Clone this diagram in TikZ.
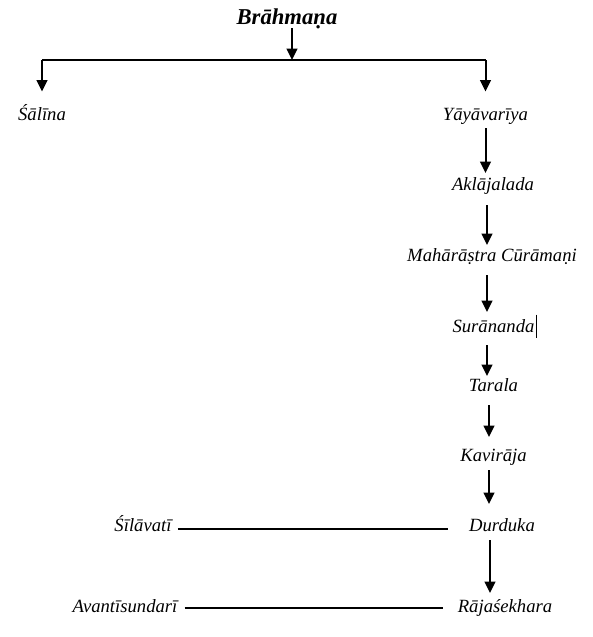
\documentclass[tikz,border=0pt]{standalone}
\usepackage{fontspec}
\setmainfont{Liberation Serif}
\usetikzlibrary{arrows.meta}
\begin{document}
\begin{tikzpicture}[x=0.75pt,y=-0.75pt,
  lbl/.style={inner sep=0pt, font=\fontsize{14}{16}\selectfont\itshape, text height=11pt, text depth=3pt},
  ttl/.style={inner sep=0pt, font=\fontsize{17}{20}\selectfont\bfseries\itshape, text height=12pt, text depth=4pt},
  arr/.style={line width=1.5pt, -{Triangle[width=8pt,length=8.5pt]}},
  bar/.style={line width=1.3pt},
  tie/.style={line width=0.8pt},
  gap/.style 2 args={shorten <=#1*0.75pt, shorten >=#2*0.75pt}
]
\useasboundingbox (0,0) rectangle (593,637);
% nodes
\node[ttl] (brah) at (287,19) {Brāhmaṇa};
\node[lbl] (sali) at (42,115) {Śālīna};
\node[lbl] (yaya) at (485.5,115) {Yāyāvarīya};
\node[lbl] (akla) at (493,185) {Aklājalada};
\node[lbl] (maha) at (492,256) {Mahārāṣtra Cūrāmaṇi};
\node[lbl] (sura) at (493.5,327) {Surānanda};
\node[lbl] (tara) at (493.5,386) {Tarala};
\node[lbl] (kavi) at (493.5,456) {Kavirāja};
\node[lbl] (durd) at (502,526) {Durduka};
\node[lbl] (raja) at (505,607) {Rājaśekhara};
\node[lbl] (sila) at (143,526) {Śīlāvatī};
\node[lbl] (avan) at (125,607) {Avantīsundarī};
% coordinates
\coordinate (junc) at (292,60);
\coordinate (c0) at (485.5,0);
\coordinate (c1) at (487,0);
\coordinate (c2) at (489,0);
\coordinate (c3) at (490,0);
% top structure
\draw[arr, gap={9}{0}] (brah -| junc) -- (junc);
\draw[bar] (sali |- junc) -- (yaya |- junc);
\draw[arr, gap={0}{14}] (sali |- junc) -- (sali);
\draw[arr, gap={0}{14}] (yaya |- junc) -- (yaya);
% column
\draw[arr, gap={13}{12}] (c0 |- yaya) -- (c0 |- akla);
\draw[arr, gap={20}{11}] (c1 |- akla) -- (c1 |- maha);
\draw[arr, gap={19}{15}] (c1 |- maha) -- (c1 |- sura);
\draw[arr, gap={18}{10}] (c1 |- sura) -- (c1 |- tara);
\draw[arr, gap={19}{19}] (c2 |- tara) -- (c2 |- kavi);
\draw[arr, gap={14}{22}] (c2 |- kavi) -- (c2 |- durd);
\draw[arr, gap={14}{14}] (c3 |- durd) -- (c3 |- raja);
% stray bar after Surananda
\draw[line width=0.6pt] ([xshift=1.5pt,yshift=2pt]sura.north east) -- ([xshift=1.5pt,yshift=-1pt]sura.south east);
% marriage lines
\draw[tie, gap={6}{21}] ([yshift=-2.25pt]sila.east) -- ([yshift=-2.25pt]durd.west);
\draw[tie, gap={7}{15}] ([yshift=-0.75pt]avan.east) -- ([yshift=-0.75pt]raja.west);
\end{tikzpicture}
\end{document}
